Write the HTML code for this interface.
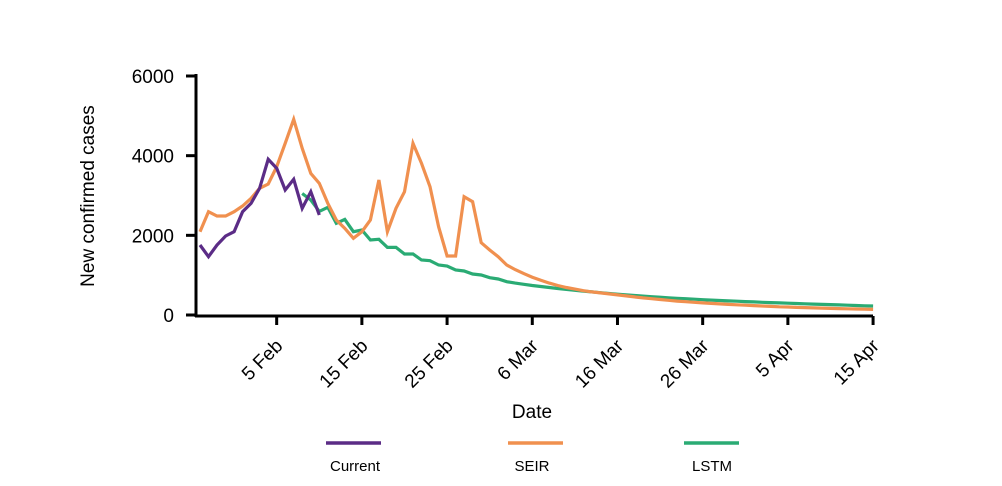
<!DOCTYPE html>
<html><head><meta charset="utf-8"><style>
body{margin:0;background:#fff;}
svg{display:block;font-family:"Liberation Sans",Arial,sans-serif;}
</style></head><body>
<svg id="chart" width="1002" height="486" viewBox="0 0 1002 486">
<g id="lines"></g>
<g id="axes"></g>
<text x="94" y="196" font-size="19" text-anchor="middle" transform="rotate(-90 94 196)">New confirmed cases</text>
<text x="532" y="418" font-size="19" text-anchor="middle">Date</text>
<g>
<line x1="326" y1="443" x2="381" y2="443" stroke="#5b2c86" stroke-width="3.5"/>
<text x="355" y="471" font-size="15" text-anchor="middle">Current</text>
<line x1="508" y1="443" x2="563" y2="443" stroke="#f0904f" stroke-width="3.5"/>
<text x="532" y="471" font-size="15" text-anchor="middle">SEIR</text>
<line x1="684" y1="443" x2="739" y2="443" stroke="#2aab74" stroke-width="3.5"/>
<text x="712" y="471" font-size="15" text-anchor="middle">LSTM</text>
</g>
</svg>
<script>
// day index 0 = 27 Jan
const currentStart = 0;
const currentValues = [1757,1463,1757,1983,2090,2593,2803,3180,3908,3682,3138,3406,2678,3095,2510];
const seirStart = 0;
const seirValues = [2090,2593,2485,2485,2593,2736,2929,3180,3288,3723,4310,4912,4184,3556,3306,2803,2385,2176,1925,2090,2385,3389,2090,2678,3095,4310,3808,3220,2216,1481,1481,2969,2844,1815,1632,1463,1255,
1140,1040,950,870,800,740,690,650,610,580,555,530,505,480,455,430,410,390,370,350,335,320,305,290,278,266,255,245,235,225,215,207,200,192,185,178,172,165,160,155,150,145,140];
const lstmStart = 12;
const lstmValues = [3050,2887,2600,2703,2301,2401,2090,2134,1883,1900,1698,1698,1531,1531,1381,1364,1255,1230,1130,1105,1030,1004,937,904,837,
800,770,740,715,690,665,642,620,600,580,560,540,522,505,490,475,460,446,432,420,408,396,385,375,365,355,346,337,328,320,312,304,296,288,281,274,267,260,253,246,239,232,225];
const yTicks = [0,2000,4000,6000];
const xTickDays = [9,19,29,39,49,59,69,79];
const xTickLabels = ["5 Feb","15 Feb","25 Feb","6 Mar","16 Mar","26 Mar","5 Apr","15 Apr"];

const NS = "http://www.w3.org/2000/svg";
const xOf = d => 200 + d * 8.52;
const yOf = v => 315 - v * 239 / 6000;
const linesG = document.getElementById('lines');
const axesG = document.getElementById('axes');

function drawSeries(start, vals, color, name) {
  const p = document.createElementNS(NS, 'polyline');
  p.setAttribute('points', vals.map((v, i) => xOf(start + i).toFixed(1) + ',' + yOf(v).toFixed(1)).join(' '));
  p.setAttribute('fill', 'none');
  p.setAttribute('stroke', color);
  p.setAttribute('stroke-width', '3.2');
  p.setAttribute('stroke-linejoin', 'miter');
  
  
  linesG.appendChild(p);
}
drawSeries(lstmStart, lstmValues, '#2aab74', 'lstm-line');
drawSeries(seirStart, seirValues, '#f0904f', 'seir-line');
drawSeries(currentStart, currentValues, '#5b2c86', 'current-line');

function mk(tag, attrs) {
  const e = document.createElementNS(NS, tag);
  for (const k in attrs) e.setAttribute(k, attrs[k]);
  axesG.appendChild(e);
  return e;
}
const yAxis = mk('line', {x1:196, y1:74, x2:196, y2:317, stroke:'#000', 'stroke-width':3});


const xAxis = mk('line', {x1:195, y1:316, x2:873, y2:316, stroke:'#000', 'stroke-width':3});


yTicks.forEach(v => {
  const y = yOf(v);
  const t = mk('line', {x1:186, y1:y, x2:196, y2:y, stroke:'#000', 'stroke-width':3});
  
  
  const l = mk('text', {x:174, y:y+7, 'font-size':19, 'text-anchor':'end'});
  l.textContent = v;
  
  
});
xTickDays.forEach((d, i) => {
  const x = xOf(d);
  const t = mk('line', {x1:x, y1:316, x2:x, y2:325, stroke:'#000', 'stroke-width':3});
  
  
  const tx = x + 7, ty = 347;
  const l = mk('text', {x:tx, y:ty, 'font-size':19, 'text-anchor':'end', transform:'rotate(-45 ' + tx + ' ' + ty + ')'});
  l.textContent = xTickLabels[i];
  
  
});
</script>
</body></html>
